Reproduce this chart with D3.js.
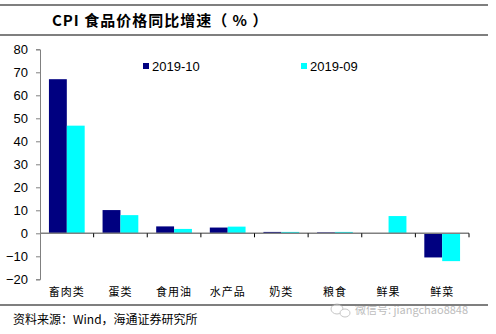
<!DOCTYPE html>
<html>
  <head>
    <meta charset="utf-8">
    <style>
      body { margin: 0; background: #fff; }
      text { font-family: Arial, "Liberation Sans", "Noto Sans CJK SC", sans-serif; }
    </style>
  </head>
  <body>
    <div class="chart-container"></div>
    <script src="https://d3js.org/d3.v7.min.js"></script>
    <script>

var categories = ['畜肉类', '蛋类', '食用油', '水产品', '奶类', '粮食', '鲜果', '鲜菜'];
var seriesNames = ['2019-10', '2019-09'];
var oct = [67.0, 10.1, 3.0, 2.5, 0.6, 0.4, -0.3, -10.5];
var sep = [46.8, 7.9, 1.9, 2.9, 0.6, 0.6, 7.5, -12.1];
var yTicks = [80, 70, 60, 50, 40, 30, 20, 10, 0, -10, -20];
var colors = ['#000080', '#00ffff'];

var width = 496;
var height = 334;

var svg = d3.select('.chart-container').append('svg')
    .attr('width', width)
    .attr('height', height);

// frame lines
[5, 35, 305].forEach(function (yy) {
  svg.append('line')
    .attr('x1', 0).attr('x2', 488)
    .attr('y1', yy).attr('y2', yy)
    .attr('stroke', '#000').attr('stroke-width', 1.2);
});

svg.append('text')
  .attr('x', 52).attr('y', 26)
  .style('font-size', '15px')
  .style('font-weight', 'bold')
  .style('letter-spacing', '1px')
  .style('font-family', '"Noto Sans CJK SC", sans-serif')
  .text('CPI 食品价格同比增速（ % ）');

var x = d3.scaleBand()
    .domain(categories)
    .range([40, 469]);

var x1 = d3.scaleBand()
    .domain(seriesNames)
    .range([0, x.bandwidth()])
    .paddingOuter(0.5);

var y = d3.scaleLinear()
    .domain([-20, 80])
    .range([279.3, 49.3]);

// y axis
var yAxis = svg.append('g')
  .attr('transform', 'translate(40,0)')
  .call(d3.axisLeft(y).tickValues(yTicks).tickSize(4).tickFormat(d3.format('d')));
yAxis.select('.domain').attr('stroke', '#808080');
yAxis.selectAll('.tick line').attr('stroke', '#808080');
yAxis.selectAll('.tick text')
  .attr('x', -12)
  .attr('fill', '#000')
  .style('font-size', '13px')
  .style('font-family', 'Arial, "Liberation Sans", sans-serif');

// bars
var groups = svg.selectAll('.grp')
  .data(categories)
  .enter().append('g')
  .attr('transform', function (d) { return 'translate(' + x(d) + ',0)'; });

groups.selectAll('rect')
  .data(function (d, i) { return [oct[i], sep[i]].map(function (v, k) { return { s: seriesNames[k], v: v, c: colors[k] }; }); })
  .enter().append('rect')
  .attr('x', function (d) { return x1(d.s); })
  .attr('width', x1.bandwidth())
  .attr('y', function (d) { return y(Math.max(0, d.v)); })
  .attr('height', function (d) { return Math.abs(y(d.v) - y(0)); })
  .attr('fill', function (d) { return d.c; });

// zero axis with ticks at band edges
var xAxis = svg.append('g')
  .attr('transform', 'translate(0,' + y(0) + ')');
xAxis.append('line')
  .attr('x1', 40).attr('x2', 469)
  .attr('stroke', '#808080').attr('stroke-width', 1.5);
xAxis.selectAll('.xt')
  .data(categories)
  .enter().append('line')
  .attr('x1', function (d) { return x(d) + x.bandwidth(); })
  .attr('x2', function (d) { return x(d) + x.bandwidth(); })
  .attr('y1', 0).attr('y2', 4)
  .attr('stroke', '#000');

// category labels
svg.selectAll('.cat')
  .data(categories)
  .enter().append('text')
  .attr('x', function (d) { return x(d) + x.bandwidth() / 2; })
  .attr('y', 296)
  .attr('text-anchor', 'middle')
  .style('font-size', '11px')
  .style('letter-spacing', '1px')
  .style('font-family', '"Noto Sans CJK SC", sans-serif')
  .text(function (d) { return d; });

// legend
var legendX = [143, 301];
seriesNames.forEach(function (s, i) {
  svg.append('rect')
    .attr('x', legendX[i]).attr('y', 63)
    .attr('width', 6).attr('height', 6)
    .attr('fill', colors[i]);
  svg.append('text')
    .attr('x', legendX[i] + 9).attr('y', 71)
    .style('font-size', '13px')
    .style('font-family', 'Arial, "Liberation Sans", sans-serif')
    .text(s);
});

// source
svg.append('text')
  .attr('x', 13).attr('y', 324)
  .style('font-size', '12px')
  .style('font-family', '"Noto Sans CJK SC", sans-serif')
  .text('资料来源：Wind，海通证券研究所');

// watermark
var wm = svg.append('g').attr('opacity', 0.55);
wm.append('ellipse').attr('cx', 337).attr('cy', 309).attr('rx', 6).attr('ry', 5)
  .attr('fill', '#fff').attr('stroke', '#999');
wm.append('ellipse').attr('cx', 345).attr('cy', 313).attr('rx', 5).attr('ry', 4)
  .attr('fill', '#fff').attr('stroke', '#999');
wm.append('text')
  .attr('x', 355).attr('y', 314)
  .attr('fill', '#888')
  .style('font-size', '11px')
  .style('font-family', '"Noto Sans CJK SC", sans-serif')
  .text('微信号: jiangchao8848');

    </script>
  </body>
</html>
